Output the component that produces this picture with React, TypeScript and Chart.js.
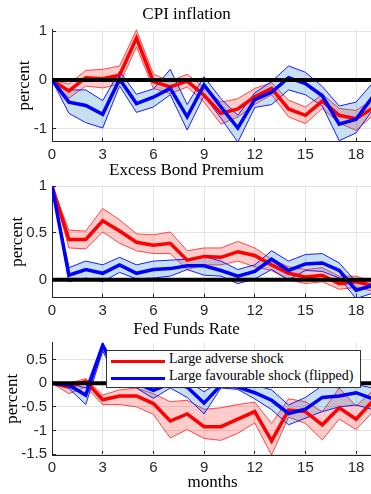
import React, { useEffect, useRef } from "react";
import { Chart, registerables } from "chart.js";

Chart.register(...registerables);

// ---------- data ----------
const months = [0, 1, 2, 3, 4, 5, 6, 7, 8, 9, 10, 11, 12, 13, 14, 15, 16, 17, 18, 19];
const xTickValues = [0, 3, 6, 9, 12, 15, 18];

const cpiRed = [0, -0.22, 0.05, 0.03, 0.1, 0.86, -0.03, -0.14, -0.02, -0.31, -0.68, -0.59, -0.34, -0.17, -0.59, -0.72, -0.43, -0.72, -0.79, -0.57];
const cpiRedUp = [0, -0.08, 0.2, 0.22, 0.29, 1.03, 0.12, -0.02, 0.12, -0.15, -0.45, -0.38, -0.17, -0.05, -0.41, -0.55, -0.29, -0.58, -0.62, -0.4];
const cpiRedLo = [0, -0.37, -0.12, -0.16, -0.08, 0.68, -0.17, -0.28, -0.14, -0.45, -0.9, -0.76, -0.5, -0.3, -0.75, -0.89, -0.58, -0.88, -1.03, -0.72];
const cpiBlue = [0, -0.45, -0.52, -0.7, 0.02, -0.48, -0.35, -0.17, -0.75, -0.1, -0.55, -0.98, -0.4, -0.25, 0.05, -0.07, -0.32, -0.9, -0.8, -0.33];
const cpiBlueUp = [0, -0.2, -0.2, -0.42, 0.18, -0.29, -0.18, 0.22, -0.5, 0.07, -0.38, -0.72, -0.26, -0.03, 0.29, 0.16, -0.13, -0.53, -0.45, -0.05];
const cpiBlueLo = [0, -0.68, -0.87, -0.98, -0.12, -0.66, -0.55, -0.3, -1.02, -0.32, -0.78, -1.27, -0.56, -0.5, -0.2, -0.3, -0.53, -1.24, -1.08, -0.6];
const cpiTicks = [-1, 0, 1];

const ebpRed = [1, 0.43, 0.43, 0.63, 0.52, 0.4, 0.37, 0.39, 0.21, 0.25, 0.24, 0.3, 0.26, 0.16, 0.07, 0.03, 0.05, -0.04, -0.02, -0.06];
const ebpRedUp = [1, 0.53, 0.52, 0.76, 0.64, 0.49, 0.48, 0.51, 0.31, 0.34, 0.34, 0.41, 0.34, 0.22, 0.14, 0.11, 0.13, 0.04, 0.04, -0.02];
const ebpRedLo = [1, 0.34, 0.33, 0.51, 0.39, 0.31, 0.28, 0.28, 0.11, 0.16, 0.16, 0.2, 0.14, 0.1, 0.0, -0.04, -0.02, -0.1, -0.08, -0.12];
const ebpBlue = [1, 0.05, 0.11, 0.07, 0.16, 0.07, 0.11, 0.12, 0.15, 0.15, 0.1, 0.04, 0.09, 0.22, 0.1, 0.17, 0.18, 0.1, -0.11, -0.06];
const ebpBlueUp = [1, 0.13, 0.2, 0.16, 0.24, 0.16, 0.2, 0.21, 0.22, 0.25, 0.2, 0.11, 0.16, 0.31, 0.2, 0.27, 0.28, 0.18, -0.02, 0.0];
const ebpBlueLo = [1, -0.02, 0.02, -0.02, 0.08, 0.01, 0.02, 0.04, 0.11, 0.05, 0.04, -0.04, 0.01, 0.11, 0.0, 0.1, 0.09, 0.02, -0.2, -0.14];
const ebpTicks = [0, 0.5, 1];

const ffrRed = [0, -0.08, 0.04, -0.35, -0.27, -0.27, -0.43, -0.8, -0.65, -0.92, -0.92, -0.76, -0.6, -1.22, -0.57, -0.6, -0.88, -0.52, -0.76, -0.37];
const ffrRedUp = [0, 0.0, 0.1, -0.25, -0.14, -0.1, -0.22, -0.39, -0.36, -0.55, -0.52, -0.45, -0.4, -0.85, -0.33, -0.39, -0.6, -0.1, -0.48, -0.15];
const ffrRedLo = [0, -0.22, -0.08, -0.45, -0.45, -0.5, -0.66, -1.16, -0.98, -1.17, -1.21, -1.06, -0.84, -1.52, -0.72, -0.85, -1.2, -0.76, -0.98, -0.6];
const ffrBlue = [0, -0.04, -0.25, 0.8, 0.1, 0.0, -0.15, 0.0, -0.08, -0.42, -0.04, -0.08, -0.2, -0.36, -0.64, -0.55, -0.3, -0.27, -0.2, -0.33];
const ffrBlueUp = [0, 0.0, -0.1, 0.86, 0.2, 0.1, -0.05, 0.1, 0.05, -0.18, 0.05, 0.0, -0.04, -0.14, -0.46, -0.3, -0.05, -0.1, -0.03, -0.1];
const ffrBlueLo = [0, -0.11, -0.45, 0.68, 0.0, -0.1, -0.32, -0.1, -0.3, -0.65, -0.1, -0.13, -0.33, -0.56, -0.88, -0.74, -0.6, -0.5, -0.46, -0.56];
const ffrTicks = [-1.5, -1, -0.5, 0, 0.5];

const seriesLabels = ["Large adverse shock", "Large favourable shock (flipped)"];

// ---------- style ----------
const RED = "#ff0000";
const BLUE = "#0000ff";
const RED_EDGE = "rgba(255,40,40,0.85)";
const BLUE_EDGE = "#1a1aff";
const RED_FILL = "rgba(255,0,0,0.2)";
const BLUE_FILL = "rgba(0,114,189,0.22)";
const GRID = "#e3e3e3";
const AXIS = "#262626";
const SERIF = "'Liberation Serif', 'DejaVu Serif', serif";
const SANS = "'Liberation Sans', Arial, sans-serif";

type PanelCfg = {
  title: string;
  red: number[]; redUp: number[]; redLo: number[];
  blue: number[]; blueUp: number[]; blueLo: number[];
  yTicks: number[]; yMin: number; yMax: number;
  top: number; height: number; titlePadTop: number; titlePadBottom: number;
  xH: number; yTitlePad: number; xTitle?: string;
};

const panels: PanelCfg[] = [
  {
    title: "CPI inflation",
    red: cpiRed, redUp: cpiRedUp, redLo: cpiRedLo,
    blue: cpiBlue, blueUp: cpiBlueUp, blueLo: cpiBlueLo,
    yTicks: cpiTicks, yMin: -1.26, yMax: 1.04,
    top: 0, height: 166, titlePadTop: 4.1, titlePadBottom: 4.8, xH: 24.3, yTitlePad: 14.8,
  },
  {
    title: "Excess Bond Premium",
    red: ebpRed, redUp: ebpRedUp, redLo: ebpRedLo,
    blue: ebpBlue, blueUp: ebpBlueUp, blueLo: ebpBlueLo,
    yTicks: ebpTicks, yMin: -0.19, yMax: 1.0,
    top: 160, height: 162, titlePadTop: 0.8, titlePadBottom: 4.8, xH: 24.3, yTitlePad: 7.8,
  },
  {
    title: "Fed Funds Rate",
    red: ffrRed, redUp: ffrRedUp, redLo: ffrRedLo,
    blue: ffrBlue, blueUp: ffrBlueUp, blueLo: ffrBlueLo,
    yTicks: ffrTicks, yMin: -1.52, yMax: 0.86,
    top: 318, height: 176, titlePadTop: 1.1, titlePadBottom: 3.2, xH: 39, yTitlePad: 2.8, xTitle: "months",
  },
];

function buildChart(canvas: HTMLCanvasElement, p: PanelCfg) {
  const pts = (arr: number[]) => arr.map((v, i) => ({ x: months[i], y: v }));
  const line = (data: any, color: string, width: number, order: number, extra: any = {}) => ({
    data, borderColor: color, borderWidth: width, pointRadius: 0, tension: 0, fill: false, order, ...extra,
  });
  const datasets: any[] = [
    line([{ x: months[0], y: 0 }, { x: months[months.length - 1], y: 0 }], "#000", 4, 0),
    line(pts(p.red), RED, 3.5, 2, { label: seriesLabels[0] }),
    line(pts(p.blue), BLUE, 3.5, 1, { label: seriesLabels[1] }),
    line(pts(p.redUp), RED_EDGE, 1, 8, { fill: 4, backgroundColor: RED_FILL }),
    line(pts(p.redLo), RED_EDGE, 1, 7),
    line(pts(p.blueUp), BLUE_EDGE, 1, 6, { fill: 6, backgroundColor: BLUE_FILL }),
    line(pts(p.blueLo), BLUE_EDGE, 1, 5),
  ];
  return new Chart(canvas, {
    type: "line",
    data: { datasets },
    options: {
      animation: false,
      responsive: false,
      devicePixelRatio: 1,
      layout: { padding: 0 },
      plugins: {
        legend: { display: false },
        tooltip: { enabled: false },
        title: {
          display: true,
          text: p.title,
          color: "#000",
          font: { family: SERIF, size: 17, weight: "normal" },
          padding: { top: p.titlePadTop, bottom: p.titlePadBottom },
        },
      },
      scales: {
        x: {
          type: "linear",
          min: months[0],
          max: months[months.length - 1],
          afterBuildTicks: (s: any) => { s.ticks = xTickValues.map((v) => ({ value: v })); },
          afterFit: (s: any) => { s.height = p.xH; },
          ticks: {
            color: AXIS, font: { family: SANS, size: 15 }, padding: 8,
            maxRotation: 0, autoSkip: false, callback: (v: any) => String(v),
          },
          grid: { color: GRID, tickColor: AXIS, tickLength: -4, lineWidth: 1 },
          border: { color: AXIS, width: 1 },
          title: p.xTitle
            ? { display: true, text: p.xTitle, color: "#000", font: { family: SERIF, size: 17 }, padding: { top: 0, bottom: 1 } }
            : { display: false },
        },
        y: {
          type: "linear",
          min: p.yMin,
          max: p.yMax,
          afterBuildTicks: (s: any) => { s.ticks = p.yTicks.map((v) => ({ value: v })); },
          afterFit: (s: any) => { s.width = 52; },
          ticks: { color: AXIS, font: { family: SANS, size: 15 }, padding: 9, callback: (v: any) => String(v) },
          grid: { color: GRID, tickColor: AXIS, tickLength: -4, lineWidth: 1 },
          border: { color: AXIS, width: 1 },
          title: {
            display: true, text: "percent", color: "#000",
            font: { family: SERIF, size: 17 }, padding: { top: p.yTitlePad, bottom: 0 },
          },
        },
      },
    } as any,
  });
}

export default function App() {
  const refs = [useRef<HTMLCanvasElement>(null), useRef<HTMLCanvasElement>(null), useRef<HTMLCanvasElement>(null)];
  useEffect(() => {
    const charts = panels.map((p, i) => buildChart(refs[i].current as HTMLCanvasElement, p));
    return () => charts.forEach((c) => c.destroy());
  }, []);

  return (
    <div style={{ position: "absolute", left: 0, top: 0, width: 371, height: 494, overflow: "hidden", background: "#fff" }}>
      {panels.map((p, i) => (
        <canvas
          key={i}
          ref={refs[i]}
          width={373}
          height={p.height}
          style={{ position: "absolute", left: 0, top: p.top, width: 373, height: p.height }}
        />
      ))}
      <div
        style={{
          position: "absolute", left: 106, top: 350, width: 255, height: 38, boxSizing: "border-box",
          border: "1px solid #333", background: "#fff", fontFamily: SERIF, fontSize: 14, lineHeight: "16px", color: "#000",
        }}
      >
        {seriesLabels.map((lab, i) => (
          <React.Fragment key={lab}>
            <div style={{ position: "absolute", left: 4, top: (i === 0 ? 8.9 : 25.5), width: 54, height: 3.5, background: i === 0 ? RED : BLUE }} />
            <div style={{ position: "absolute", left: 62, top: (i === 0 ? 0.3 : 17), whiteSpace: "nowrap" }}>{lab}</div>
          </React.Fragment>
        ))}
      </div>
    </div>
  );
}
